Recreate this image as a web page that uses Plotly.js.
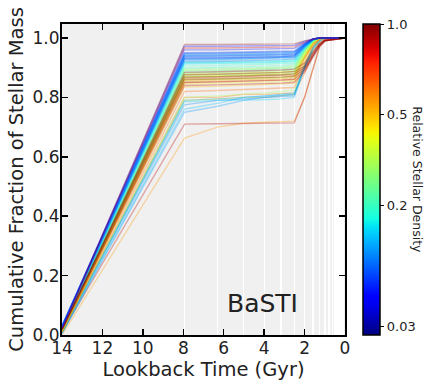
<!DOCTYPE html>
<html>
<head>
<meta charset="utf-8">
<script src="https://cdn.plot.ly/plotly-3.0.1.min.js"></script>
<style>
  html, body { margin: 0; padding: 0; background: #fff; }
  #chart { width: 429px; height: 387px; }
</style>
</head>
<body>
<div id="chart"></div>
<script>
// lookback time of each vertex (Gyr)
const ages = [14, 7.94, 6.31, 5.01, 3.98, 3.16, 2.51, 2.0, 1.58, 1.26, 1.0, 0];

// log-age bin edges drawn as white guide lines (Gyr)
const binEdges = [7.94, 6.31, 5.01, 3.98, 3.16, 2.51, 2.0, 1.58, 1.26, 1.0,
                  0.79, 0.63, 0.5, 0.4, 0.32, 0.25, 0.2, 0.16, 0.13, 0.1];

// relative stellar density of each history
const density = [
  0.55, 0.9, 0.6, 0.45,
  0.1, 0.12, 0.09, 0.13, 0.3, 0.11,
  0.62, 0.5, 0.42, 0.55, 0.38, 0.68, 0.45, 0.58, 0.4, 0.36,
  0.32, 0.26, 0.22, 0.3, 0.24, 0.35, 0.28,
  0.16, 0.18, 0.14, 0.2, 0.17,
  1.0, 0.98, 1.0, 0.93, 0.96, 0.9,
  0.07, 0.08, 0.065, 0.09, 0.075, 0.1, 0.085, 0.06, 0.11, 0.07, 0.095, 0.08,
  0.95, 0.045, 0.85, 0.05
];

// cumulative fraction of stellar mass at each age
const cumFrac = [
  [0.00, 0.663, 0.70, 0.713, 0.716, 0.718, 0.72, 0.80, 0.90, 0.97, 0.99, 1],
  [0.01, 0.71, 0.711, 0.712, 0.712, 0.713, 0.714, 0.80, 0.90, 0.97, 0.99, 1],
  [0.01, 0.80, 0.80, 0.81, 0.81, 0.812, 0.815, 0.88, 0.95, 0.985, 0.995, 1],
  [0.01, 0.79, 0.795, 0.80, 0.80, 0.805, 0.81, 0.90, 0.96, 0.99, 1, 1],

  [0.005, 0.75, 0.77, 0.79, 0.80, 0.805, 0.81, 0.90, 0.965, 0.99, 1, 1],
  [0.005, 0.76, 0.78, 0.80, 0.805, 0.81, 0.815, 0.91, 0.97, 0.995, 1, 1],
  [0.01, 0.775, 0.79, 0.795, 0.80, 0.802, 0.805, 0.90, 0.97, 0.99, 1, 1],
  [0.01, 0.785, 0.79, 0.79, 0.792, 0.795, 0.80, 0.90, 0.96, 0.99, 1, 1],
  [0.01, 0.80, 0.805, 0.81, 0.815, 0.82, 0.825, 0.91, 0.97, 0.99, 1, 1],
  [0.008, 0.79, 0.795, 0.80, 0.803, 0.806, 0.81, 0.905, 0.968, 0.992, 1, 1],

  [0.01, 0.82, 0.823, 0.826, 0.828, 0.83, 0.833, 0.91, 0.97, 0.995, 1, 1],
  [0.012, 0.835, 0.837, 0.84, 0.842, 0.844, 0.847, 0.92, 0.975, 0.995, 1, 1],
  [0.013, 0.845, 0.847, 0.849, 0.851, 0.853, 0.856, 0.93, 0.98, 0.997, 1, 1],
  [0.013, 0.855, 0.857, 0.859, 0.861, 0.863, 0.866, 0.935, 0.982, 0.998, 1, 1],
  [0.014, 0.86, 0.862, 0.864, 0.866, 0.868, 0.871, 0.94, 0.985, 1, 1, 1],
  [0.012, 0.865, 0.867, 0.869, 0.871, 0.873, 0.875, 0.935, 0.98, 0.997, 1, 1],
  [0.014, 0.87, 0.872, 0.874, 0.876, 0.878, 0.88, 0.945, 0.985, 1, 1, 1],
  [0.013, 0.85, 0.852, 0.854, 0.856, 0.858, 0.86, 0.93, 0.98, 0.997, 1, 1],
  [0.015, 0.878, 0.88, 0.882, 0.884, 0.886, 0.889, 0.948, 0.988, 1, 1, 1],
  [0.014, 0.858, 0.86, 0.862, 0.864, 0.866, 0.869, 0.938, 0.984, 1, 1, 1],

  [0.015, 0.875, 0.877, 0.879, 0.881, 0.883, 0.886, 0.95, 0.988, 1, 1, 1],
  [0.017, 0.882, 0.884, 0.886, 0.888, 0.89, 0.893, 0.955, 0.99, 1, 1, 1],
  [0.018, 0.888, 0.89, 0.892, 0.894, 0.896, 0.898, 0.957, 0.99, 1, 1, 1],
  [0.016, 0.892, 0.893, 0.895, 0.897, 0.899, 0.902, 0.958, 0.99, 1, 1, 1],
  [0.017, 0.896, 0.897, 0.898, 0.90, 0.902, 0.905, 0.96, 0.99, 1, 1, 1],
  [0.015, 0.87, 0.872, 0.874, 0.876, 0.878, 0.88, 0.945, 0.987, 1, 1, 1],
  [0.016, 0.868, 0.87, 0.872, 0.874, 0.876, 0.879, 0.944, 0.986, 1, 1, 1],

  [0.02, 0.912, 0.913, 0.914, 0.916, 0.918, 0.92, 0.965, 0.993, 1, 1, 1],
  [0.02, 0.906, 0.907, 0.909, 0.911, 0.913, 0.915, 0.962, 0.992, 1, 1, 1],
  [0.02, 0.915, 0.916, 0.917, 0.919, 0.921, 0.923, 0.966, 0.993, 1, 1, 1],
  [0.018, 0.90, 0.901, 0.903, 0.905, 0.907, 0.91, 0.96, 0.99, 1, 1, 1],
  [0.02, 0.918, 0.919, 0.92, 0.922, 0.924, 0.926, 0.967, 0.994, 1, 1, 1],

  [0.02, 0.86, 0.862, 0.864, 0.866, 0.868, 0.871, 0.895, 0.94, 0.975, 0.99, 1],
  [0.02, 0.868, 0.87, 0.872, 0.874, 0.876, 0.879, 0.90, 0.945, 0.978, 0.992, 1],
  [0.02, 0.876, 0.878, 0.88, 0.882, 0.884, 0.887, 0.905, 0.95, 0.98, 0.993, 1],
  [0.018, 0.85, 0.852, 0.854, 0.856, 0.858, 0.861, 0.89, 0.94, 0.975, 0.99, 1],
  [0.02, 0.884, 0.886, 0.888, 0.89, 0.892, 0.895, 0.915, 0.955, 0.982, 0.994, 1],
  [0.015, 0.84, 0.842, 0.844, 0.846, 0.848, 0.851, 0.885, 0.935, 0.972, 0.99, 1],

  [0.03, 0.95, 0.951, 0.952, 0.953, 0.954, 0.956, 0.98, 0.997, 1, 1, 1],
  [0.03, 0.945, 0.946, 0.947, 0.948, 0.95, 0.952, 0.978, 0.996, 1, 1, 1],
  [0.028, 0.94, 0.941, 0.942, 0.943, 0.945, 0.947, 0.976, 0.996, 1, 1, 1],
  [0.028, 0.935, 0.936, 0.937, 0.938, 0.94, 0.942, 0.975, 0.995, 1, 1, 1],
  [0.027, 0.93, 0.931, 0.932, 0.934, 0.936, 0.938, 0.972, 0.995, 1, 1, 1],
  [0.025, 0.925, 0.926, 0.928, 0.93, 0.932, 0.934, 0.97, 0.994, 1, 1, 1],
  [0.025, 0.92, 0.921, 0.923, 0.925, 0.927, 0.93, 0.968, 0.994, 1, 1, 1],
  [0.03, 0.932, 0.933, 0.934, 0.935, 0.937, 0.94, 0.975, 0.996, 1, 1, 1],
  [0.03, 0.942, 0.943, 0.944, 0.945, 0.947, 0.95, 0.978, 0.996, 1, 1, 1],
  [0.032, 0.948, 0.949, 0.95, 0.951, 0.952, 0.954, 0.979, 0.997, 1, 1, 1],
  [0.026, 0.928, 0.929, 0.93, 0.932, 0.934, 0.936, 0.971, 0.995, 1, 1, 1],
  [0.029, 0.938, 0.939, 0.94, 0.941, 0.943, 0.945, 0.976, 0.996, 1, 1, 1],

  [0.02, 0.978, 0.978, 0.979, 0.979, 0.98, 0.98, 0.99, 0.997, 1, 1, 1],
  [0.025, 0.972, 0.972, 0.973, 0.973, 0.974, 0.975, 0.988, 0.997, 1, 1, 1],
  [0.02, 0.966, 0.966, 0.967, 0.967, 0.968, 0.97, 0.985, 0.996, 1, 1, 1],
  [0.025, 0.96, 0.96, 0.961, 0.962, 0.963, 0.965, 0.983, 0.996, 1, 1, 1]
];

// colorbar ticks
const cbarTicks = [0.03, 0.2, 0.5, 1.0];
const cbarLabels = ['0.03', '0.2', '0.5', '1.0'];

// where each tick sits along the colour bar (0 = bottom, 1 = top)
const cbarPos = [0.027, 0.417, 0.709, 1.0];

const FONT = 'DejaVu Sans, sans-serif';

function interp(t, xs, ys) {
  if (t <= xs[0]) return ys[0];
  for (let i = 1; i < xs.length; i++) {
    if (t <= xs[i]) {
      const f = (t - xs[i - 1]) / (xs[i] - xs[i - 1]);
      return ys[i - 1] + f * (ys[i] - ys[i - 1]);
    }
  }
  return ys[ys.length - 1];
}

// matplotlib jet
function jet(t, a) {
  const r = interp(t, [0, 0.35, 0.66, 0.89, 1], [0, 0, 1, 1, 0.5]);
  const g = interp(t, [0, 0.125, 0.375, 0.64, 0.91, 1], [0, 0, 1, 1, 0, 0]);
  const b = interp(t, [0, 0.11, 0.34, 0.65, 1], [0.5, 1, 1, 0, 0]);
  const c = v => Math.round(v * 255);
  return a === undefined
    ? `rgb(${c(r)},${c(g)},${c(b)})`
    : `rgba(${c(r)},${c(g)},${c(b)},${a})`;
}

function densityToPos(d) {
  return interp(Math.log10(d), cbarTicks.map(Math.log10), cbarPos);
}

const jetScale = [];
for (let i = 0; i <= 40; i++) jetScale.push([i / 40, jet(i / 40)]);

const traces = cumFrac.map((ys, i) => ({
  x: ages,
  y: ys,
  type: 'scatter',
  mode: 'lines',
  line: { color: jet(densityToPos(density[i]), 0.32), width: 1.4 },
  hoverinfo: 'skip',
  showlegend: false
}));

// invisible trace that carries the colour bar
traces.push({
  x: [7], y: [0.5],
  type: 'scatter',
  mode: 'markers',
  hoverinfo: 'skip',
  showlegend: false,
  marker: {
    color: [0.5], cmin: 0, cmax: 1, opacity: 0, size: 1,
    colorscale: jetScale,
    showscale: true,
    colorbar: {
      x: 1.062, xanchor: 'left', xpad: 0,
      y: 0.5, yanchor: 'middle', ypad: 0,
      len: 1, lenmode: 'fraction',
      thickness: 17,
      outlinewidth: 1.5, outlinecolor: '#000',
      tickvals: cbarPos, ticktext: cbarLabels,
      ticks: 'outside', ticklen: 4, tickcolor: '#000',
      tickfont: { family: FONT, size: 13, color: '#222' }
    }
  }
});

const axisStyle = {
  showline: true, linecolor: '#000', linewidth: 2,
  mirror: 'ticks', ticks: 'inside', ticklen: 6, tickwidth: 1.5, tickcolor: '#000',
  zeroline: false, ticklabelstandoff: -3,
  tickfont: { family: FONT, size: 17, color: '#222' }
};

const layout = {
  width: 429, height: 387,
  margin: { l: 62, r: 78, t: 24, b: 52 },
  paper_bgcolor: '#fff',
  plot_bgcolor: '#f0f0f0',
  xaxis: Object.assign({}, axisStyle, {
    range: [14, 0], autorange: false,
    tickvals: [14, 12, 10, 8, 6, 4, 2, 0],
    showgrid: false,
    minor: { tickvals: binEdges, showgrid: true, gridcolor: '#fff', gridwidth: 1.5, ticks: '' },
    title: { text: 'Lookback Time (Gyr)', font: { family: FONT, size: 19.5, color: '#222' }, standoff: 1 }
  }),
  yaxis: Object.assign({}, axisStyle, {
    range: [0, 1.047], autorange: false,
    tickvals: [0, 0.2, 0.4, 0.6, 0.8, 1.0],
    tickformat: '.1f',
    showgrid: false,
    title: { text: 'Cumulative Fraction of Stellar Mass', font: { family: FONT, size: 19.5, color: '#222' }, standoff: 4 }
  }),
  annotations: [
    {
      text: 'BaSTI', xref: 'paper', yref: 'paper',
      x: 0.71, y: 0.1, xanchor: 'center', yanchor: 'middle',
      showarrow: false, font: { family: FONT, size: 25, color: '#222' }
    },
    {
      text: 'Relative Stellar Density', xref: 'paper', yref: 'paper',
      x: 1.255, y: 0.5, xanchor: 'center', yanchor: 'middle',
      textangle: 90, showarrow: false,
      font: { family: FONT, size: 12.5, color: '#222' }
    }
  ]
};

Plotly.newPlot('chart', traces, layout, { displayModeBar: false, staticPlot: true });
</script>
</body>
</html>
